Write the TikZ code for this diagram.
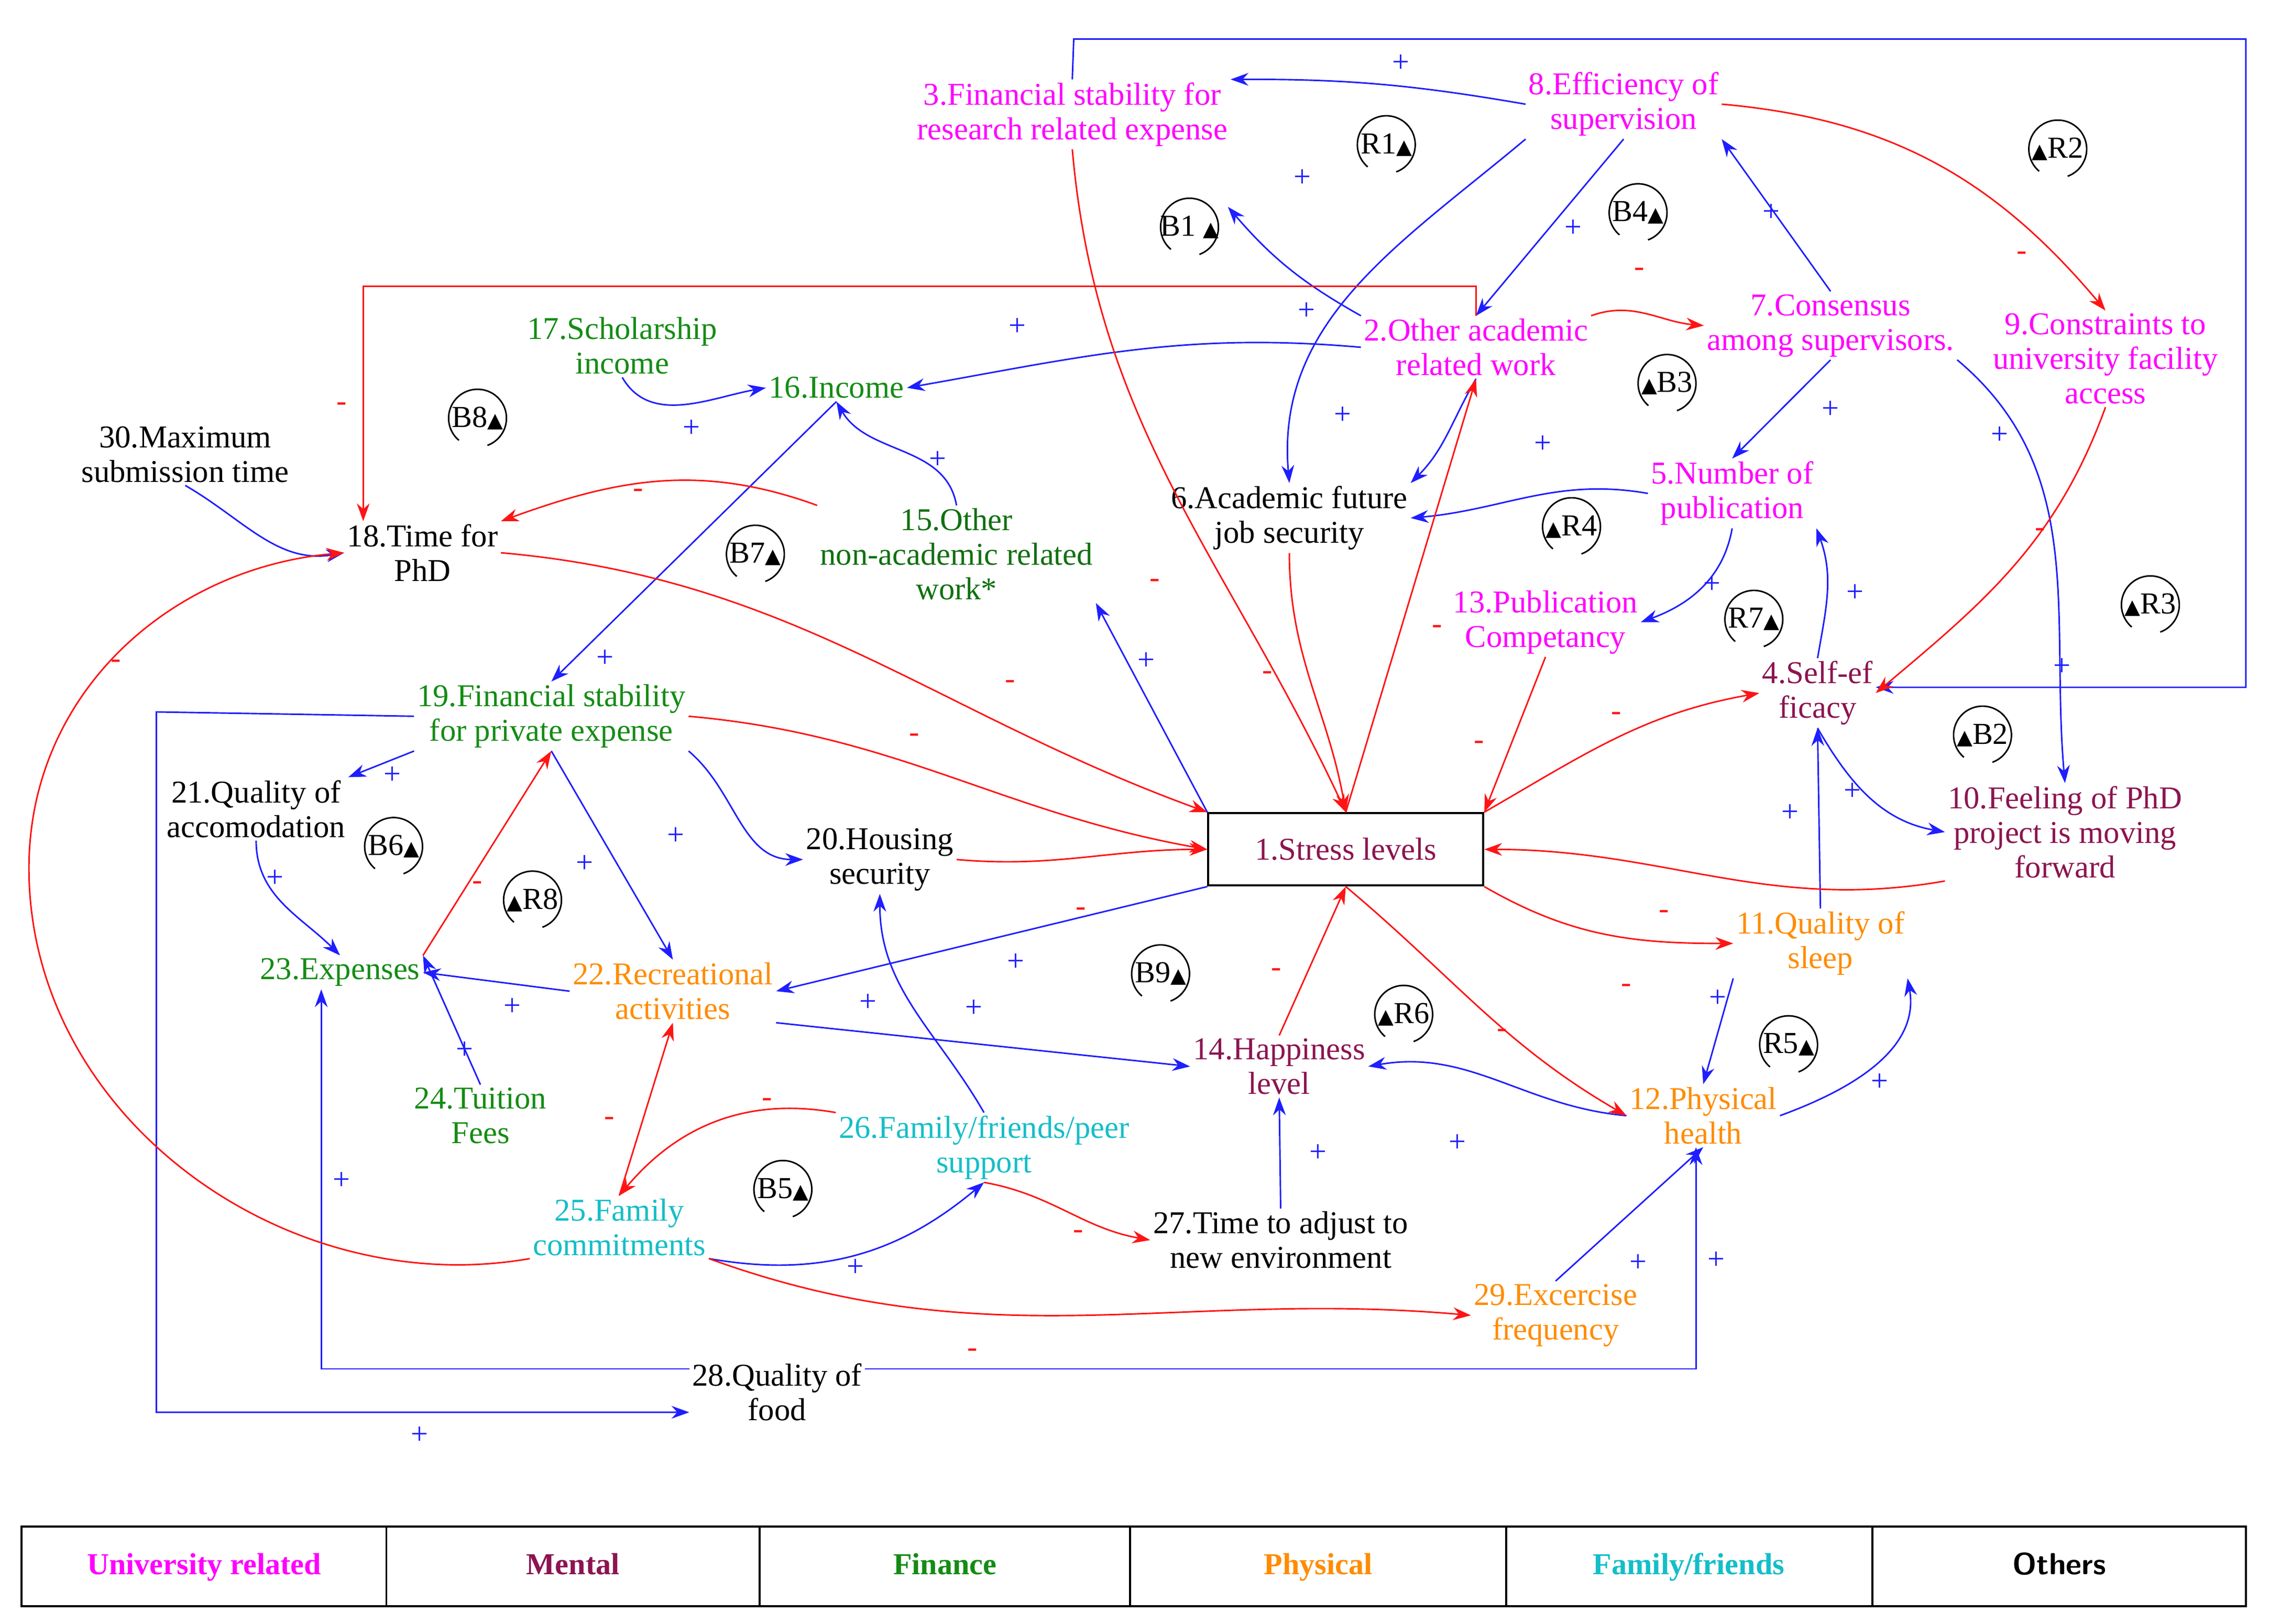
\documentclass[tikz,border=0pt]{standalone}
\usepackage{fontspec}
\setmainfont{Liberation Serif}
\newfontfamily\dvs{DejaVu Sans}
\usetikzlibrary{arrows.meta}
\definecolor{uni}{RGB}{255,0,255}
\definecolor{men}{RGB}{140,20,80}
\definecolor{fin}{RGB}{20,140,20}
\definecolor{phy}{RGB}{255,140,0}
\definecolor{fam}{RGB}{20,190,200}
\definecolor{bl}{RGB}{30,30,255}
\definecolor{rd}{RGB}{255,20,20}
\newcommand{\tri}{{\dvs\fontsize{8}{8}\selectfont ▲}}
\newcommand{\lpm}[3]{\node[font=\fontsize{12}{13}\selectfont] (#1) at (#2) {#3};
  \draw[line width=0.6pt] (#2) ++(70:20) arc (70:-230:20);}
\begin{document}
\begin{tikzpicture}[x=0.02cm,y=-0.02cm,
  v/.style={align=center,inner sep=1pt,font=\fontsize{12.5}{13.6}\selectfont},
  b/.style={draw=bl,line width=0.6pt,-{Stealth[length=7pt,width=5pt]}},
  r/.style={draw=rd,line width=0.6pt,-{Stealth[length=7pt,width=5pt]}},
  p/.style={text=bl,font=\fontsize{12}{12}\selectfont,inner sep=0pt},
  m/.style={text=rd,font=\fontsize{12}{12}\selectfont,inner sep=0pt},
  lg/.style={font=\bfseries\fontsize{12}{13}\selectfont,text height=8pt,text depth=2pt,inner sep=0pt}]
\useasboundingbox (0,0) rectangle (1568,1122);
% nodes
\node[v,text=uni] (n3) at (741,79) {3.Financial stability for\\research related expense};
\node[v,text=uni] (n8) at (1122,72) {8.Efficiency of\\supervision};
\node[v,text=uni] (n2) at (1020,240) {2.Other academic\\related work};
\node[v,text=uni] (n7) at (1265,225) {7.Consensus\\among supervisors.};
\node[v,text=uni] (n9) at (1455,248) {9.Constraints to\\university facility\\access};
\node[v,text=fin] (n17) at (430,239) {17.Scholarship\\income};
\node[v,text=fin] (n16) at (578,268) {16.Income};
\node[v] (n30) at (128,314) {30.Maximum\\submission time};
\node[v] (n18) at (292,382) {18.Time for\\PhD};
\node[v,text=fin!80!black] (n15) at (661,383) {15.Other\\non-academic related\\work*};
\node[v] (n6) at (891,358) {6.Academic future\\job security};
\node[v,text=uni] (n5) at (1197,341) {5.Number of\\publication};
\node[v,text=uni] (n13) at (1068,430) {13.Publication\\Competancy};
\node[v,text=men] (n4) at (1256,479) {4.Self-ef\\ficacy};
\node[v,text=fin] (n19) at (381,495) {19.Financial stability\\for private expense};
\node[v] (n21) at (177,559) {21.Quality of\\accomodation};
\node[v] (n20) at (608,594) {20.Housing\\security};
\node[v,text=men,draw=black,line width=0.8pt,minimum width=190*0.02cm,minimum height=50*0.02cm] (n1) at (930,587) {1.Stress levels};
\node[v,text=men] (n10) at (1427,575) {10.Feeling of PhD\\project is moving\\forward};
\node[v,text=fin] (n23) at (235,672) {23.Expenses};
\node[v,text=phy] (n22) at (465,685) {22.Recreational\\activities};
\node[v,text=phy] (n11) at (1258,652) {11.Quality of\\sleep};
\node[v,text=men] (n14) at (884,737) {14.Happiness\\level};
\node[v,text=phy] (n12) at (1177,771) {12.Physical\\health};
\node[v,text=fin] (n24) at (332,771) {24.Tuition\\Fees};
\node[v,text=fam] (n26) at (680,793) {26.Family/friends/peer\\support};
\node[v,text=fam] (n25) at (428,848) {25.Family\\commitments};
\node[v] (n27) at (885,857) {27.Time to adjust to\\new environment};
\node[v,text=phy] (n29) at (1075,909) {29.Excercise\\frequency};
\node[v] (n28) at (537,962) {28.Quality of\\food};
% loop markers
\lpm{lR1}{958,100}{R1\tri}
\lpm{lR2}{1422,103}{\tri R2}
\lpm{lB1}{822,157}{B1 \tri}
\lpm{lB4}{1132,147}{B4\tri}
\lpm{lB3}{1152,265}{\tri B3}
\lpm{lB8}{330,289}{B8\tri}
\lpm{lR4}{1086,364}{\tri R4}
\lpm{lB7}{522,383}{B7\tri}
\lpm{lR7}{1212,428}{R7\tri}
\lpm{lR3}{1486,418}{\tri R3}
\lpm{lB2}{1370,508}{\tri B2}
\lpm{lB6}{272,585}{B6\tri}
\lpm{lR8}{368,622}{\tri R8}
\lpm{lB9}{802,673}{B9\tri}
\lpm{lR6}{970,701}{\tri R6}
\lpm{lR5}{1236,722}{R5\tri}
\lpm{lB5}{541,822}{B5\tri}
% blue connectors
\coordinate (c3a) at (742,27); \coordinate (c3b) at (1552,27); \coordinate (c3c) at (1552,475);
\draw[b] (n3.north) -- (c3a) -- (c3b) -- (c3c) -- (n4.east|-c3c);
\draw[b] (n8.west) to[bend right=5] (n3.north east); \node[p] at (968,44) {+};
\draw[b] (n2.north west) to[bend left=10] (lB1.north east); \node[p] at (900,123) {+};
\draw[b] (n8.south west) to[out=220,in=95] (n6.north); \node[p] at (903,215) {+};
\draw[b] (n8.south) -- (n2.north); \node[p] at (1087,158) {+};
\draw[b] (n7.north) -- (n8.south east); \node[p] at (1224,147) {+};
\draw[b] (n7.south) -- (n5.north); \node[p] at (1265,283) {+};
\draw[b] (n7.south east) to[out=-40,in=95] (n10.north); \node[p] at (1382,301) {+}; \node[p] at (1425,461) {+};
\draw[b] (n2.west) to[out=175,in=10] (n16.east); \node[p] at (703,226) {+};
\draw[b] (n2.south) to[out=240,in=45] (n6.north east); \node[p] at (928,287) {+};
\draw[b] (n5.west) to[out=170,in=5] (n6.east); \node[p] at (1066,307) {+};
\draw[b] (n5.south) to[out=-100,in=20] (n13.east); \node[p] at (1183,404) {+};
\draw[b] (n4.north) to[out=80,in=-70] (n5.south east); \node[p] at (1282,410) {+};
\draw[b] (n4.south) to[out=-60,in=170] (n10.west); \node[p] at (1280,547) {+};
\draw[b] (n11.north) -- (n4.south); \node[p] at (1237,562) {+};
\draw[b] (n17.south) to[out=-60,in=190] (n16.west); \node[p] at (478,296) {+};
\draw[b] (n15.north) to[out=100,in=-60] (n16.south); \node[p] at (648,318) {+};
\draw[b] (n16.south) -- (n19.north); \node[p] at (418,455) {+};
\draw[b] (n30.south) to[out=-30,in=190] (n18.west);
\draw[b] (n1.north west) -- (n15.south east); \node[p] at (792,457) {+};
\draw[b] (n19.south west) -- (n21.north east); \node[p] at (271,536) {+};
\draw[b] (n19.south east) to[out=-40,in=180] (n20.west); \node[p] at (467,578) {+};
\draw[b] (n19.south) -- (n22.north); \node[p] at (404,597) {+};
\coordinate (c19a) at (108,492); \coordinate (c19b) at (108,976);
\draw[b] (n19.west) -- (c19a) -- (c19b) -- (n28.west|-c19b); \node[p] at (290,992) {+};
\draw[b] (n21.south) to[out=-90,in=135] (n23.north); \node[p] at (190,607) {+};
\draw[b] (n22.west) -- (n23.east); \node[p] at (354,696) {+};
\draw[b] (n24.north) -- (n23.north east); \node[p] at (321,726) {+};
\draw[b] (n1.south west) -- (n22.east); \node[p] at (702,665) {+};
\draw[b] (n22.south east) -- (n14.west); \node[p] at (600,693) {+}; \node[p] at (673,697) {+};
\draw[b] (n26.north) to[out=120,in=-90] (n20.south);
\draw[b] (n25.south east) to[out=-10,in=-140] (n26.south); \node[p] at (591,876) {+};
\draw[b] (n12.west) to[out=175,in=10] (n14.east); \node[p] at (1007,790) {+};
\draw[b] (n27.north) -- (n14.south); \node[p] at (911,797) {+};
\draw[b] (n12.east) to[out=20,in=-80] (n11.south east); \node[p] at (1299,748) {+};
\draw[b] (n11.south west) -- (n12.north); \node[p] at (1187,690) {+};
\draw[b] (n29.north) -- (n12.south); \node[p] at (1132,873) {+};
\coordinate (c28r) at (n28.north east|-0,946); \coordinate (c28l) at (n28.north west|-0,946);
\coordinate (c28a) at (1172,946); \coordinate (c28b) at (222,946);
\draw[b] (c28r) -- (c28a) -- (n12.south-|c28a); \node[p] at (1186,871) {+};
\draw[b] (c28l) -- (c28b) -- (n23.south-|c28b); \node[p] at (236,816) {+};
% red connectors
\draw[r] (n8.east) to[out=-5,in=130] (n9.north); \node[m] at (1397,177) {-};
\draw[r] (n2.north east) to[out=20,in=175] (n7.west); \node[m] at (1133,188) {-};
\coordinate (c2a) at (1020,198); \coordinate (c2b) at (251,198);
\draw[r] (n2.north) -- (c2a) -- (c2b) -- (n18.north-|c2b); \node[m] at (236,281) {-};
\draw[r] (n3.south) to[out=-85,in=115] (n1.north); \node[m] at (798,403) {-};
\draw[r] (n1.north) -- (n2.south); \node[m] at (993,435) {-};
\draw[r] (n6.south) to[out=-90,in=100] (n1.north); \node[m] at (876,467) {-};
\draw[r] (n13.south) -- (n1.north east); \node[m] at (1022,515) {-};
\draw[r] (n9.south) to[out=-110,in=40] (n4.east); \node[m] at (1410,368) {-};
\draw[r] (n1.north east) to[out=30,in=190] (n4.west); \node[m] at (1117,495) {-};
\draw[r] (n10.south west) to[out=190,in=0] (n1.east); \node[m] at (1150,632) {-};
\draw[r] (n18.east) to[out=-5,in=160] (n1.north west); \node[m] at (698,473) {-};
\draw[r] (n19.east) to[out=-5,in=170] (n1.west); \node[m] at (632,510) {-};
\draw[r] (n15.north west) to[out=160,in=20] (n18.north east); \node[m] at (441,341) {-};
\draw[r] (n20.east) to[out=-5,in=180] (n1.west); \node[m] at (747,630) {-};
\draw[r] (n1.south east) to[out=-30,in=180] (n11.west); \node[m] at (1124,683) {-};
\draw[r] (n1.south) to[out=-40,in=150] (n12.west); \node[m] at (1038,714) {-};
\draw[r] (n14.north) -- (n1.south); \node[m] at (882,672) {-};
\draw[r] (n23.north east) -- (n19.south); \node[m] at (330,612) {-};
\draw[r] (n25.north) -- (n22.south); \node[m] at (421,775) {-};
\draw[r] (n26.north west) to[out=170,in=50] (n25.north); \node[m] at (530,762) {-};
\draw[r] (n26.south) to[out=-10,in=170] (n27.west); \node[m] at (745,853) {-};
\draw[r] (n25.south east) to[out=-20,in=175] (n29.west); \node[m] at (672,935) {-};
\draw[r] (n25.south west) to[out=190,in=-90] (20,600) to[out=90,in=185] (n18.west); \node[m] at (80,459) {-};
% legend
\draw[line width=0.8pt] (15,1055) rectangle (1552,1110);
\foreach \x in {267,525,781,1041,1294} \draw[line width=0.8pt] (\x,1055) -- (\x,1110);
\node[lg,text=uni] (g1) at (141,1083) {University related};
\node[lg,text=men] (g2) at (396,1083) {Mental};
\node[lg,text=fin] (g3) at (653,1083) {Finance};
\node[lg,text=phy] (g4) at (911,1083) {Physical};
\node[lg,text=fam] (g5) at (1167,1083) {Family/friends};
\node[lg,font=\bfseries\sffamily\fontsize{12}{13}\selectfont] (g6) at (1423,1083) {Others};
\end{tikzpicture}
\end{document}
